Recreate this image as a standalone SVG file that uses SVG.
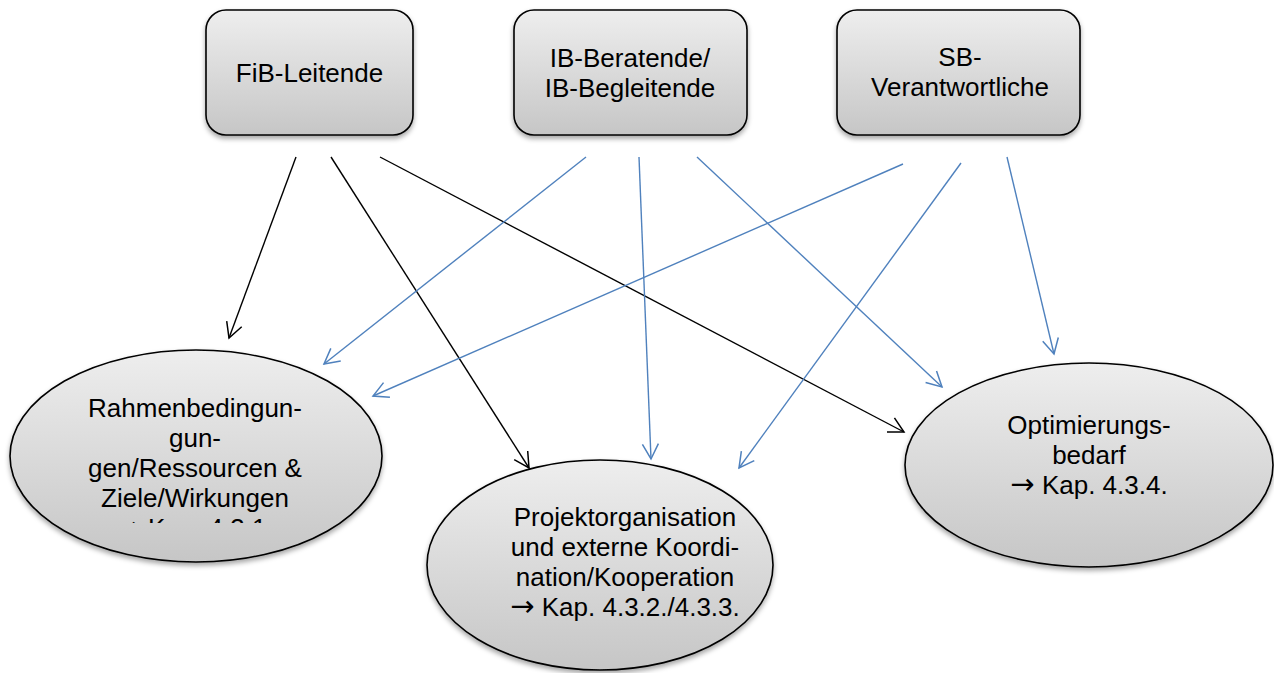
<svg xmlns="http://www.w3.org/2000/svg" width="1274" height="673" viewBox="0 0 1274 673">
<defs>
<linearGradient id="g" x1="0" y1="0" x2="0" y2="1">
<stop offset="0" stop-color="#eeeeee"/>
<stop offset="1" stop-color="#c6c6c6"/>
</linearGradient>
<filter id="sh" x="-10%" y="-10%" width="120%" height="130%">
<feDropShadow dx="0" dy="3" stdDeviation="2.5" flood-color="#000" flood-opacity="0.35"/>
</filter>
<marker id="ab" markerUnits="userSpaceOnUse" markerWidth="20" markerHeight="20" viewBox="-16 -10 20 20" refX="0" refY="0" orient="auto">
<path d="M -15 -8 L 0 0 L -15 8" fill="none" stroke="#000" stroke-width="1.5"/>
</marker>
<marker id="au" markerUnits="userSpaceOnUse" markerWidth="20" markerHeight="20" viewBox="-16 -10 20 20" refX="0" refY="0" orient="auto">
<path d="M -15 -8 L 0 0 L -15 8" fill="none" stroke="#4f81bd" stroke-width="1.5"/>
</marker>
<clipPath id="c1"><rect x="0" y="300" width="420" height="223"/></clipPath>
</defs>
<style>
.n{fill:url(#g);stroke:#000;stroke-width:1.6;filter:url(#sh)}
.t{font-family:"Liberation Sans",Arial,sans-serif;font-size:26px;fill:#000;text-anchor:middle}
.ar{font-family:"DejaVu Sans",sans-serif;font-size:29px}
.k{fill:none;stroke:#000;stroke-width:1.4;marker-end:url(#ab)}
.b{fill:none;stroke:#4f81bd;stroke-width:1.4;marker-end:url(#au)}
</style>
<g id="fib">
<rect class="n" x="206" y="10" width="207" height="125" rx="20"/>
<text class="t" x="309.5" y="82">FiB-Leitende</text>
</g>
<g id="ib">
<rect class="n" x="514" y="10" width="233" height="125" rx="20"/>
<text class="t" x="630" y="67">IB-Beratende/</text>
<text class="t" x="630" y="97">IB-Begleitende</text>
</g>
<g id="sb">
<rect class="n" x="837" y="10" width="243" height="125" rx="20"/>
<text class="t" x="960" y="66">SB-</text>
<text class="t" x="960" y="96">Verantwortliche</text>
</g>
<g id="rahmen">
<ellipse class="n" cx="196" cy="456" rx="186" ry="106"/>
<g clip-path="url(#c1)">
<text class="t" x="195" y="417">Rahmenbedingun-</text>
<text class="t" x="195" y="447">gun-</text>
<text class="t" x="195" y="477">gen/Ressourcen &amp;</text>
<text class="t" x="195" y="507">Ziele/Wirkungen</text>
<text class="t" x="195" y="537"><tspan class="ar">→</tspan> Kap. 4.3.1.</text>
</g>
</g>
<g id="projekt">
<ellipse class="n" cx="600" cy="565" rx="173" ry="105"/>
<text class="t" x="625" y="526">Projektorganisation</text>
<text class="t" x="625" y="556">und externe Koordi-</text>
<text class="t" x="625" y="586">nation/Kooperation</text>
<text class="t" x="625" y="616"><tspan class="ar">→</tspan> Kap. 4.3.2./4.3.3.</text>
</g>
<g id="optim">
<ellipse class="n" cx="1089" cy="465" rx="184" ry="102"/>
<text class="t" x="1089" y="434">Optimierungs-</text>
<text class="t" x="1089" y="464">bedarf</text>
<text class="t" x="1089" y="494"><tspan class="ar">→</tspan> Kap. 4.3.4.</text>
</g>
<g id="connectors">
<line class="k" x1="296" y1="157" x2="229" y2="338"/>
<line class="k" x1="331" y1="157" x2="529" y2="468"/>
<line class="k" x1="380" y1="157" x2="904" y2="432"/>
<line class="b" x1="586" y1="157" x2="324" y2="364"/>
<line class="b" x1="639" y1="157" x2="651" y2="459"/>
<line class="b" x1="697" y1="157" x2="942" y2="387"/>
<line class="b" x1="903" y1="164" x2="373" y2="396"/>
<line class="b" x1="961" y1="163" x2="739" y2="468"/>
<line class="b" x1="1007" y1="157" x2="1054" y2="354"/>
</g>
</svg>
